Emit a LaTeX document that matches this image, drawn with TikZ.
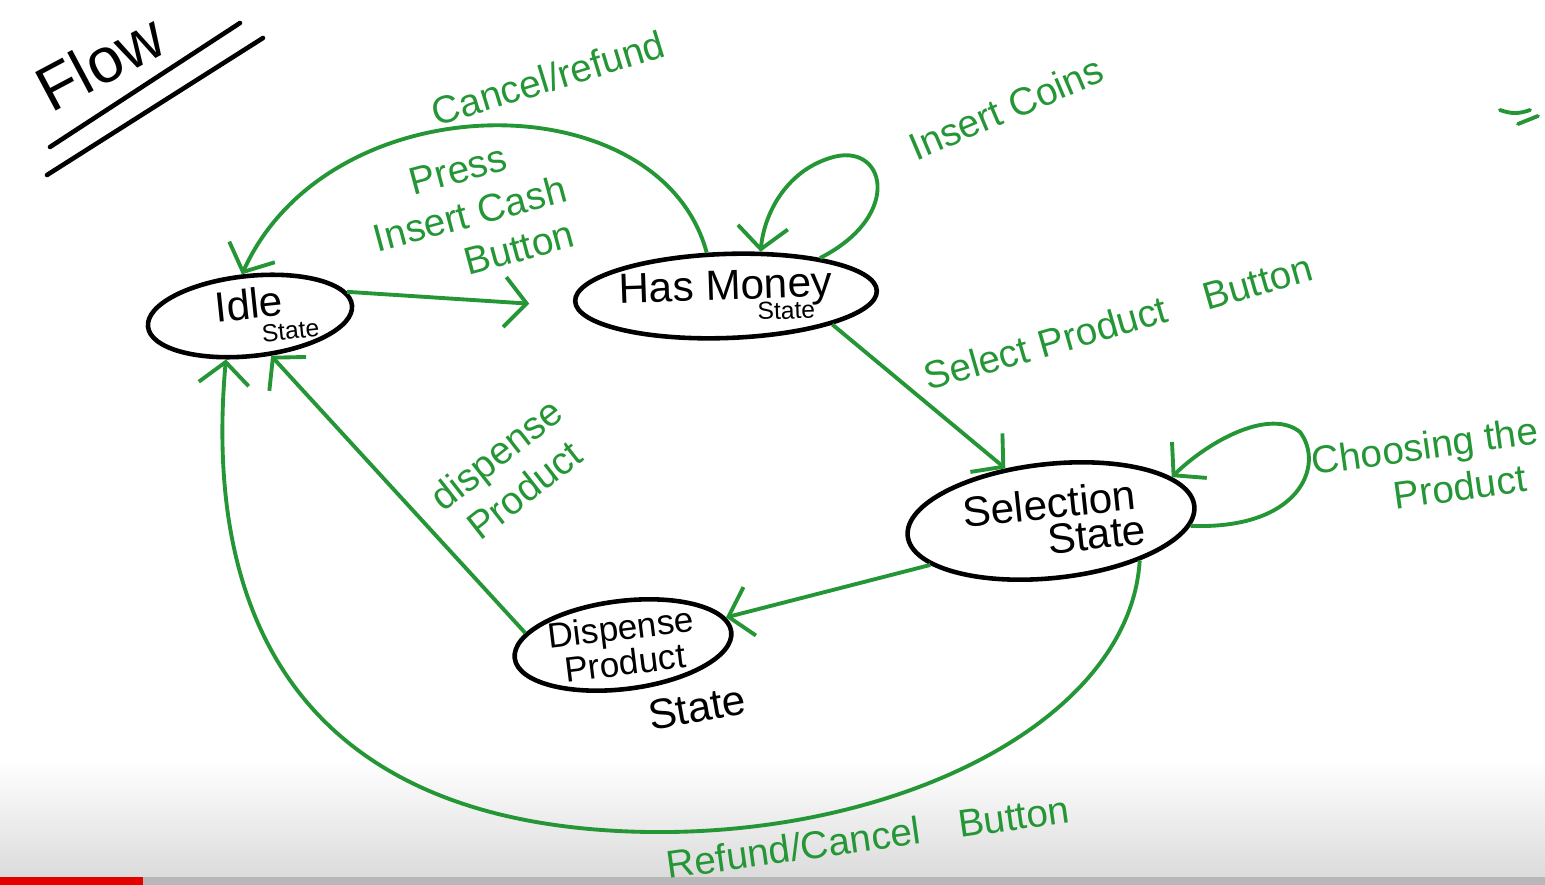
\documentclass[tikz,border=0pt]{standalone}
\usepackage{fontspec}
\setmainfont{Liberation Sans}
\usepackage{tikz}
\usetikzlibrary{arrows.meta}
\usetikzlibrary{shapes.geometric}
\usetikzlibrary{positioning}
\usetikzlibrary{calc}
\definecolor{marker}{RGB}{36,150,54}
\tikzstyle{state} = [draw, ellipse, line width = 1.3pt, inner sep = 0pt, align = center]
\tikzstyle{trans} = [draw = marker, line width = 1.1pt, -{Straight Barb[length = 2.2mm, width = 5mm]}]
\tikzstyle{note} = [text = marker, align = center, font = \fontsize{11}{13}\selectfont]

\begin{document}
\begin{tikzpicture}[x = 0.01cm, y = -0.01cm]

		\useasboundingbox (0, 0) rectangle (1545, 885);
		% Screen fade and progress bar
		\shade[top color = white, bottom color = black!14] (0, 760) rectangle (1545, 877);
		\fill[black!28] (0, 877) rectangle (1545, 885);
		\fill[red!90!black] (0, 877) rectangle (143, 885);

		% Title
		\node[rotate = 28, font = \fontsize{18}{20}\selectfont] (title) at (100, 62) {Flow};
		\draw[line width = 1.3pt, line cap = round] (50, 147) -- (240, 23);
		\draw[line width = 1.3pt, line cap = round] (47, 175) -- (263, 38);
		\draw[marker, line width = 1.1pt, line cap = round] (1500, 110) to[bend right = 20] (1530, 110);
		\draw[marker, line width = 1.1pt, line cap = round] (1518, 124) -- (1538, 116);

		% States
		\node[state, minimum width = 2.05cm, minimum height = 0.8cm, rotate = 6] (idle) at (250, 316)
			{\large Idle\\[-5pt]\hspace*{2.2em}\scriptsize State};
		\node[state, minimum width = 2.77cm, minimum height = 0.84cm, rotate = 2] (money) at (726, 296)
			{\large Has Money\\[-6pt]\hspace*{3.4em}\scriptsize State};
		\node[state, minimum width = 2.88cm, minimum height = 1.14cm, rotate = 6] (sel) at (1051, 521)
			{\large Selection\\[-2pt]\hspace*{2.5em}\large State};
		\node[state, minimum width = 2.18cm, minimum height = 0.88cm, rotate = 7] (disp) at (623, 645)
			{Dispense\\[-2pt]Product};
		\node[rotate = 10] (dispnote) at (697, 708) {\large State};

		% Transitions
		\draw[trans, shorten > = 0.45cm] (idle.8) -- (money.182);
		\draw[trans] (money.112) .. controls (660, 80) and (330, 80) .. (idle.95);
		\draw[trans] (money.20) .. controls (905, 215) and (885, 140) .. (830, 158)
			.. controls (785, 172) and (764, 215) .. (money.50);
		\draw[trans] (money.-17) -- (sel.125);
		\draw[trans] (sel.-8) .. controls (1300, 530) and (1325, 465) .. (1300, 432)
			.. controls (1270, 408) and (1210, 440) .. (sel.14);
		\draw[trans] (sel.-166) -- (disp.8);
		\draw[trans] (disp.166) -- (idle.-68);
		\draw[trans] (sel.-30) .. controls (1130, 720) and (900, 835) .. (650, 832)
			.. controls (330, 828) and (200, 650) .. (idle.-125);

		% Labels
		\node[note, rotate = 17] (lcancel) at (548, 78) {Cancel/refund};
		\node[note, rotate = 15] (lpress) at (470, 214) {Press\\Insert Cash\\\hspace*{2em}Button};
		\node[note, rotate = 23] (lcoins) at (1006, 108) {Insert Coins};
		\node[note, rotate = 16] (lselect) at (1118, 322) {Select Product\quad Button};
		\node[note, rotate = 8] (lchoose) at (1428, 468) {Choosing the\\\hspace*{1.5em}Product};
		\node[note, rotate = 38] (ldisp) at (510, 472) {dispense\\Product};
		\node[note, rotate = 8] (lrefund) at (868, 837) {Refund/Cancel\quad Button};

\end{tikzpicture}
\end{document}
